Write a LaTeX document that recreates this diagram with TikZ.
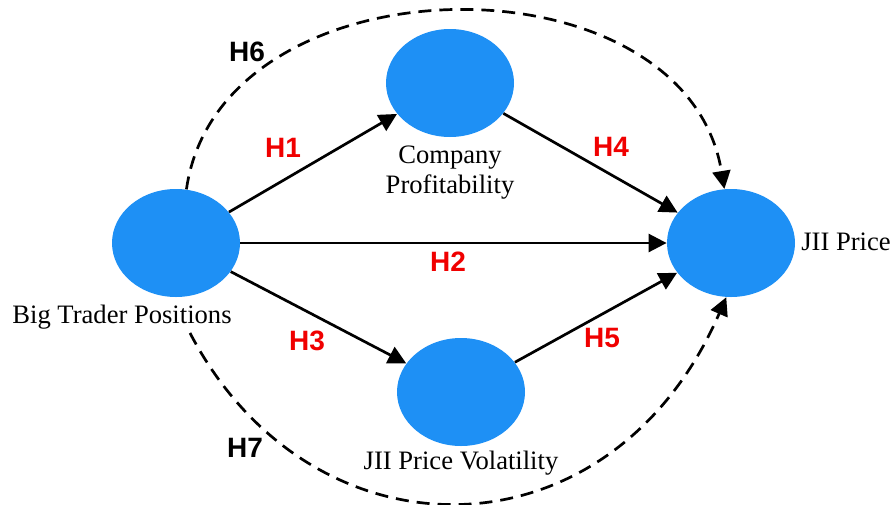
\documentclass[tikz,border=0pt]{standalone}
\usepackage{fontspec}
\setmainfont{Liberation Serif}
\newfontfamily\hypfont{Liberation Sans}
\usetikzlibrary{shapes.geometric,arrows.meta}
\definecolor{constructblue}{RGB}{30,144,245}
\definecolor{hypred}{RGB}{240,0,0}
\begin{document}
\begin{tikzpicture}[x=0.5pt,y=-0.5pt,
  construct/.style={ellipse,fill=constructblue,draw=none,minimum width=64pt,minimum height=54pt,inner sep=0pt},
  caption/.style={font=\fontsize{13.3}{15}\selectfont,inner sep=0pt,align=center},
  hyp/.style={font=\hypfont\bfseries\fontsize{14}{16}\selectfont,text=hypred,inner sep=0pt},
  hypdash/.style={hyp,text=black},
  path/.style={line width=1.35pt,-{Triangle[length=9pt,width=9pt]}},
  indirect/.style={path,dash pattern=on 6.5pt off 4pt}]
\useasboundingbox (0,0) rectangle (893,504);

% latent constructs
\node[construct] (bt)  at (176,243) {};
\node[construct] (cp)  at (450,83)  {};
\node[construct] (jii) at (731,243) {};
\node[construct] (vol) at (461,392) {};

% construct captions
\node[caption] (btl)  at (122,317) {Big Trader Positions};
\node[caption] (cpl)  at (450,173) {Company\\Profitability};
\node[caption] (jiil) at (846,242) {JII Price};
\node[caption] (voll) at (461,463) {JII Price Volatility};

% direct paths
\draw[path] (bt) -- (cp);
\draw[path] (bt) -- (jii);
\draw[path] (bt) -- (vol);
\draw[path] (cp) -- (jii);
\draw[path] (vol) -- (jii);

% indirect (mediated) paths
\coordinate (h7start) at (190,333);
\draw[indirect] (bt.79) .. controls (220,-45) and (685,-50) .. (jii.97);
\draw[indirect] (h7start) .. controls (311,565) and (610,565) .. (jii.265);

% hypothesis labels
\node[hyp] (h1) at (283,148) {H1};
\node[hyp] (h2) at (448,262) {H2};
\node[hyp] (h3) at (307,341) {H3};
\node[hyp] (h4) at (611,147) {H4};
\node[hyp] (h5) at (602,338) {H5};
\node[hypdash] (h6) at (247,52) {H6};
\node[hypdash] (h7) at (245,448) {H7};
\end{tikzpicture}
\end{document}
